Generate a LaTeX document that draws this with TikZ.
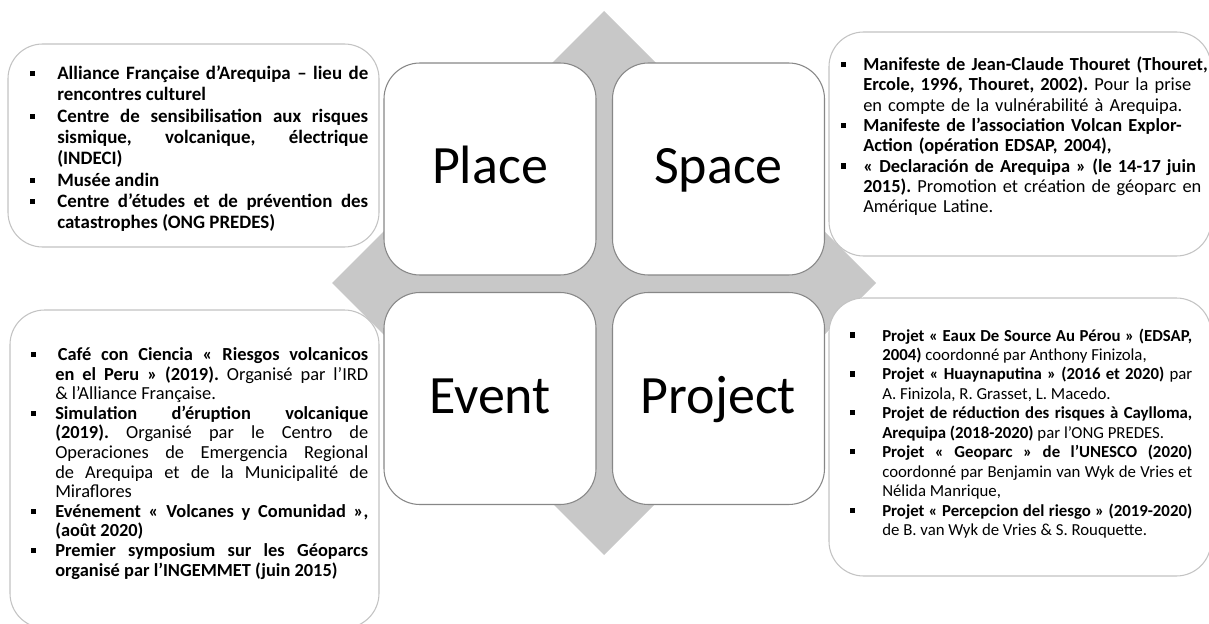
\documentclass[tikz,border=0pt]{standalone}
\usepackage{fontspec}
\setmainfont{Carlito}
\usepackage{xcolor}
\usepackage{tikz}
\definecolor{diamondgray}{RGB}{200, 200, 200}
\definecolor{cardline}{RGB}{135, 135, 135}
\definecolor{noteline}{RGB}{195, 195, 195}

\tolerance=9999
\hbadness=10000
\hyphenpenalty=10000
\exhyphenpenalty=10000
\frenchspacing

\newlength{\bhang}
\newcommand{\bul}{\par\hangindent=\bhang\hangafter=1\noindent\makebox[\bhang][l]{\rule[2.6pt]{3.9pt}{3.9pt}}}

\tikzset{
    card/.style={draw=cardline, line width=0.8pt, fill=white, rounded corners=27pt,
        minimum width=159pt, minimum height=159pt, text height=30pt, text depth=7.5pt,
        font=\fontsize{40.5pt}{48pt}\selectfont},
    note/.style={draw=noteline, line width=0.8pt, fill=white, rounded corners=26pt},
    notetext/.style={anchor=west, inner sep=0pt}
}

\begin{document}
\begin{tikzpicture}[x=0.75pt, y=-0.75pt]
        \useasboundingbox (0,0) rectangle (1209,624);

        % losange
        \fill[diamondgray] (604,11) -- (876,283) -- (604,555) -- (332,283) -- cycle;

        % cases
        \node[card] (place) at (490,169) {Place};
        \node[card] (space) at (718.5,169) {Space};
        \node[card] (event) at (490,398.5) {Event};
        \node[card] (project) at (718.5,398.5) {Project};

        % encadrés
        \def\placenote{(8,44) rectangle (379,247)}
        \def\spacenote{(829,32) rectangle (1211,256)}
        \def\eventnote{(10,310) rectangle (379,628)}
        \def\projectnote{(829,298) rectangle (1211,576)}
        \draw[note] \placenote;
        \draw[note] \spacenote;
        \draw[note] \eventnote;
        \draw[note] \projectnote;

        % textes
        \node[notetext, text width=253.5pt, align=justify,
            font=\fontsize{14.2pt}{16pt}\selectfont\bfseries] (placetxt) at (30,145) {\bhang=20.25pt
            \bul Alliance Française d’Arequipa – lieu de\linebreak rencontres culturel
            \bul Centre de sensibilisation aux risques\linebreak sismique, volcanique, électrique\linebreak (INDECI)
            \bul Musée andin
            \bul Centre d'études et de prévention des\linebreak catastrophes (ONG PREDES)\par};

        \node[notetext, text width=280.5pt,
            font=\fontsize{13.8pt}{15.2pt}\selectfont] (spacetxt) at (841,133) {\raggedright\bhang=16.5pt
            \bul \textbf{Manifeste de Jean-Claude Thouret (Thouret,\newline Ercole, 1996, Thouret, 2002).} Pour la prise\newline en compte de la vulnérabilité à Arequipa.
            \bul \textbf{Manifeste de l’association Volcan Explor-\newline Action (opération EDSAP, 2004),}
            \bul \textbf{« Declaración de Arequipa » (le 14-17 juin\newline 2015).} Promotion et création de géoparc en\newline Amérique Latine.\par};

        \node[notetext, text width=252.75pt, align=justify,
            font=\fontsize{13.8pt}{14.7pt}\selectfont] (eventtxt) at (31,460) {\bhang=18pt
            \bul\hspace{2pt}\textbf{Café con Ciencia « Riesgos volcanicos\linebreak en el Peru » (2019).} Organisé par l’IRD\linebreak \& l’Alliance Française.
            \bul \textbf{Simulation d’éruption volcanique\linebreak (2019).} Organisé par le Centro de\linebreak Operaciones de Emergencia Regional\linebreak de Arequipa et de la Municipalité de\linebreak Miraflores
            \bul \textbf{Evénement « Volcanes y Comunidad »,\linebreak (août 2020)}
            \bul \textbf{Premier symposium sur les Géoparcs\linebreak organisé par l’INGEMMET (juin 2015)}\par};

        \node[notetext, text width=256.5pt, align=justify,
            font=\fontsize{12.6pt}{14.6pt}\selectfont] (projecttxt) at (850,430) {\bhang=24pt
            \bul \textbf{Projet « Eaux De Source Au Pérou » (EDSAP,\linebreak 2004)} coordonné par Anthony Finizola,
            \bul \textbf{Projet « Huaynaputina » (2016 et 2020)} par\linebreak A. Finizola, R. Grasset, L. Macedo.
            \bul \textbf{Projet de réduction des risques à Caylloma,\linebreak Arequipa (2018-2020)} par l’ONG PREDES.
            \bul \textbf{Projet « Geoparc » de l’UNESCO (2020)}\linebreak coordonné par Benjamin van Wyk de Vries et\linebreak Nélida Manrique,
            \bul \textbf{Projet « Percepcion del riesgo » (2019-2020)}\linebreak de B. van Wyk de Vries \& S. Rouquette.\par};
    \end{tikzpicture}
\end{document}
